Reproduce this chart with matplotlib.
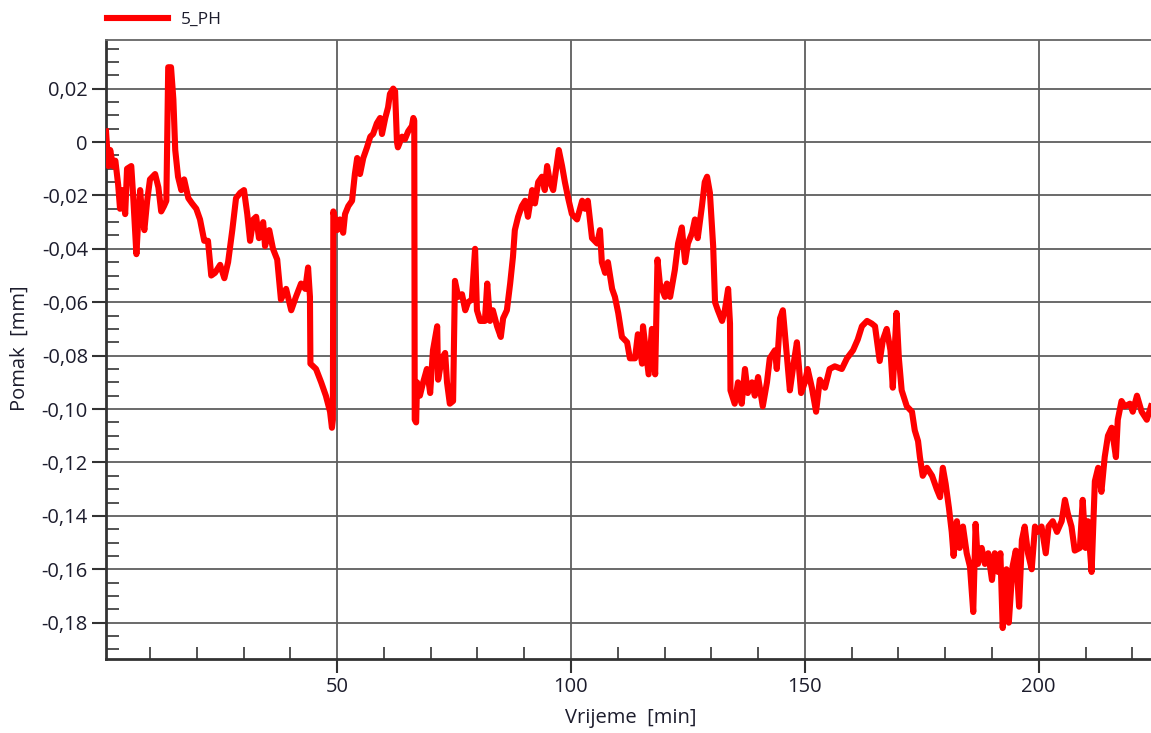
import numpy as np
import matplotlib
matplotlib.use("Agg")
import matplotlib.pyplot as plt
from matplotlib.ticker import MultipleLocator, FuncFormatter

plt.rcParams['font.family'] = ['Open Sans', 'DejaVu Sans']

# values (time in min, displacement in mm)
time_min = [
    0.6, 1.1, 1.5, 2.1, 2.6, 3.2, 3.6, 4.1, 4.7, 5.1, 6.0, 6.4, 7.1, 7.5, 7.9,
    8.3, 8.8, 9.4, 10.0, 11.1, 11.8, 12.4, 13.0, 13.5, 13.9, 14.5, 15.0, 15.4,
    16.0, 16.7, 17.3, 18.2, 19.0, 19.9, 20.7, 21.6, 22.4, 23.1, 23.9, 25.0,
    25.9, 26.7, 27.6, 28.4, 29.3, 30.1, 30.8, 31.4, 32.1, 32.7, 33.3, 34.2,
    34.6, 35.5, 36.3, 37.2, 38.0, 39.1, 40.2, 41.2, 42.3, 43.2, 43.8, 44.2,
    44.3, 45.5, 46.6, 47.6, 48.5, 48.9, 49.1, 49.2, 50.0, 50.6, 51.3, 51.7,
    52.4, 53.2, 53.8, 54.3, 54.9, 55.6, 56.4, 57.1, 57.7, 58.5, 59.2, 59.6,
    60.3, 60.9, 61.3, 62.0, 62.4, 62.8, 63.0, 63.9, 64.5, 65.2, 66.0, 66.3,
    66.5, 66.6, 66.9, 67.1, 67.7, 68.4, 69.2, 69.9, 70.5, 71.4, 71.6, 72.4,
    73.1, 73.5, 74.1, 74.8, 75.2, 75.9, 76.7, 77.4, 78.0, 78.8, 79.5, 79.9,
    80.6, 81.6, 82.1, 82.7, 83.3, 84.2, 85.0, 85.5, 86.3, 87.0, 87.6, 88.0,
    88.7, 89.5, 90.2, 90.8, 91.7, 92.3, 93.0, 93.8, 94.4, 94.9, 95.5, 96.2,
    97.0, 97.4, 98.1, 98.7, 99.4, 100.2, 101.3, 102.4, 103.0, 103.6, 104.5,
    105.6, 106.2, 106.6, 107.3, 107.9, 108.8, 109.4, 110.1, 110.9, 112.0,
    112.6, 113.7, 114.3, 115.2, 115.4, 116.2, 116.6, 117.3, 118.0, 118.5,
    119.0, 120.1, 120.5, 121.2, 122.2, 122.9, 123.7, 124.4, 125.0, 125.9,
    126.5, 127.1, 128.0, 128.6, 129.1, 129.7, 130.4, 130.8, 131.4, 132.3,
    132.9, 133.6, 134.0, 134.1, 135.0, 135.7, 136.5, 137.2, 137.8, 138.7,
    139.3, 140.0, 141.0, 141.9, 142.5, 143.6, 144.0, 144.7, 145.3, 145.9,
    146.8, 147.6, 148.3, 149.2, 150.0, 150.6, 151.5, 152.4, 153.2, 154.3,
    155.3, 156.4, 157.9, 159.0, 160.3, 161.3, 162.2, 163.3, 164.3, 165.0,
    166.0, 166.7, 167.5, 168.3, 168.8, 169.6, 170.1, 170.7, 171.8, 172.9,
    173.5, 174.2, 174.6, 175.2, 176.1, 177.2, 178.2, 178.9, 179.5, 180.1,
    180.8, 181.4, 181.8, 182.5, 183.1, 183.8, 184.6, 185.3, 186.0, 186.5,
    187.0, 187.8, 188.5, 189.2, 190.0, 190.6, 191.3, 191.8, 192.3, 193.1,
    193.6, 194.4, 195.1, 195.8, 196.4, 197.0, 197.7, 198.5, 199.2, 199.8,
    200.6, 201.5, 202.1, 203.0, 203.9, 204.9, 205.6, 206.2, 207.0, 207.7,
    208.8, 209.4, 210.0, 210.5, 211.3, 212.0, 212.7, 213.4, 214.1, 214.8,
    215.6, 216.5, 216.9, 217.7, 218.4, 219.5, 220.1, 221.0, 222.0, 223.1,
    224.0,
]
pomak_mm = [
    0.004, -0.009, -0.003, -0.009, -0.007, -0.016, -0.025, -0.018, -0.027,
    -0.010, -0.009, -0.020, -0.042, -0.029, -0.018, -0.027, -0.033, -0.022,
    -0.014, -0.012, -0.017, -0.026, -0.024, -0.022, 0.028, 0.028, 0.016,
    -0.003, -0.013, -0.018, -0.014, -0.021, -0.023, -0.025, -0.029, -0.037,
    -0.037, -0.050, -0.049, -0.046, -0.051, -0.045, -0.033, -0.021, -0.019,
    -0.018, -0.027, -0.037, -0.029, -0.028, -0.036, -0.030, -0.039, -0.033,
    -0.040, -0.044, -0.059, -0.055, -0.063, -0.058, -0.053, -0.055, -0.047,
    -0.058, -0.083, -0.085, -0.090, -0.095, -0.101, -0.107, -0.104, -0.026,
    -0.033, -0.029, -0.034, -0.027, -0.024, -0.022, -0.012, -0.006, -0.012,
    -0.006, -0.002, 0.002, 0.003, 0.007, 0.009, 0.003, 0.009, 0.013, 0.018,
    0.020, 0.019, 0.000, -0.002, 0.002, 0.001, 0.004, 0.006, 0.009, 0.008,
    -0.104, -0.105, -0.090, -0.095, -0.090, -0.085, -0.094, -0.078, -0.069,
    -0.089, -0.081, -0.079, -0.090, -0.098, -0.097, -0.052, -0.058, -0.057,
    -0.063, -0.060, -0.059, -0.040, -0.063, -0.067, -0.067, -0.053, -0.067,
    -0.063, -0.069, -0.073, -0.066, -0.063, -0.053, -0.043, -0.033, -0.028,
    -0.024, -0.022, -0.028, -0.018, -0.023, -0.015, -0.013, -0.018, -0.009,
    -0.015, -0.018, -0.008, -0.003, -0.009, -0.015, -0.021, -0.027, -0.029,
    -0.022, -0.025, -0.022, -0.036, -0.038, -0.033, -0.045, -0.049, -0.045,
    -0.055, -0.058, -0.064, -0.073, -0.075, -0.081, -0.081, -0.072, -0.083,
    -0.069, -0.081, -0.087, -0.070, -0.087, -0.044, -0.053, -0.058, -0.053,
    -0.058, -0.048, -0.038, -0.032, -0.045, -0.038, -0.034, -0.029, -0.036,
    -0.024, -0.015, -0.013, -0.019, -0.039, -0.060, -0.063, -0.067, -0.063,
    -0.055, -0.068, -0.093, -0.098, -0.090, -0.098, -0.085, -0.094, -0.090,
    -0.095, -0.088, -0.099, -0.090, -0.081, -0.078, -0.085, -0.066, -0.063,
    -0.075, -0.093, -0.083, -0.075, -0.094, -0.090, -0.085, -0.092, -0.101,
    -0.089, -0.092, -0.085, -0.084, -0.085, -0.081, -0.078, -0.074, -0.069,
    -0.067, -0.068, -0.069, -0.082, -0.074, -0.070, -0.078, -0.092, -0.064,
    -0.081, -0.093, -0.099, -0.101, -0.108, -0.112, -0.118, -0.125, -0.122,
    -0.125, -0.130, -0.133, -0.122, -0.128, -0.137, -0.146, -0.155, -0.142,
    -0.152, -0.144, -0.154, -0.159, -0.176, -0.143, -0.158, -0.152, -0.158,
    -0.154, -0.164, -0.154, -0.161, -0.154, -0.182, -0.160, -0.180, -0.159,
    -0.153, -0.174, -0.149, -0.144, -0.154, -0.160, -0.144, -0.146, -0.144,
    -0.154, -0.144, -0.142, -0.146, -0.142, -0.134, -0.139, -0.144, -0.153,
    -0.152, -0.134, -0.152, -0.142, -0.161, -0.127, -0.122, -0.131, -0.118,
    -0.110, -0.107, -0.118, -0.104, -0.097, -0.099, -0.098, -0.101, -0.095,
    -0.101, -0.104, -0.099,
]
series_name = "5_PH"
x_label = "Vrijeme  [min]"
y_label = "Pomak  [mm]"


def comma_fmt(v, pos):
    if abs(v) < 1e-9:
        return "0"
    return f"{v:.2f}".replace(".", ",")


W, H = 1151, 733
fig = plt.figure(figsize=(W / 100, H / 100), dpi=100)
ax = fig.add_axes([106 / W, 74 / H, 1 - 106 / W, 619 / H])

ax.plot(time_min, pomak_mm, color="#ff0000", lw=4.4, label=series_name,
        zorder=3, solid_joinstyle="round")

ax.set_xlim(0.6, 224)
ax.set_ylim(-0.1936, 0.0382)

ax.xaxis.set_major_locator(MultipleLocator(50))
ax.xaxis.set_minor_locator(MultipleLocator(10))
ax.yaxis.set_major_locator(MultipleLocator(0.02))
ax.yaxis.set_minor_locator(MultipleLocator(0.005))
ax.yaxis.set_major_formatter(FuncFormatter(comma_fmt))

ax.grid(True, which="major", color="#5e5e5e", lw=1.3, zorder=1)
ax.tick_params(axis="both", which="major", direction="out", length=10,
               width=1.5, color="#333333", labelsize=14.5,
               labelcolor="#1c1c2c", pad=3)
ax.tick_params(axis="both", which="minor", direction="in", length=9,
               width=1.3, color="#444444")

for side in ("left", "bottom"):
    ax.spines[side].set_color("#333333")
    ax.spines[side].set_linewidth(2.0)
ax.spines["top"].set_color("#666666")
ax.spines["top"].set_linewidth(1.3)
ax.spines["right"].set_visible(False)

fig.text(20 / W, 1 - 348 / H, y_label, rotation=90, ha="center", va="center",
         fontsize=14.5, color="#1c1c2c")
fig.text(631 / W, 1 - 718 / H, x_label, ha="center", va="center",
         fontsize=14.5, color="#1c1c2c")

fig.legend(loc="center left", bbox_to_anchor=(107 / W, 1 - 20 / H),
           frameon=False, fontsize=12.5, handlelength=3.5, handletextpad=0.75,
           borderpad=0, borderaxespad=0, labelcolor="#1c1c2c")

fig.savefig("out.png", dpi=100)
